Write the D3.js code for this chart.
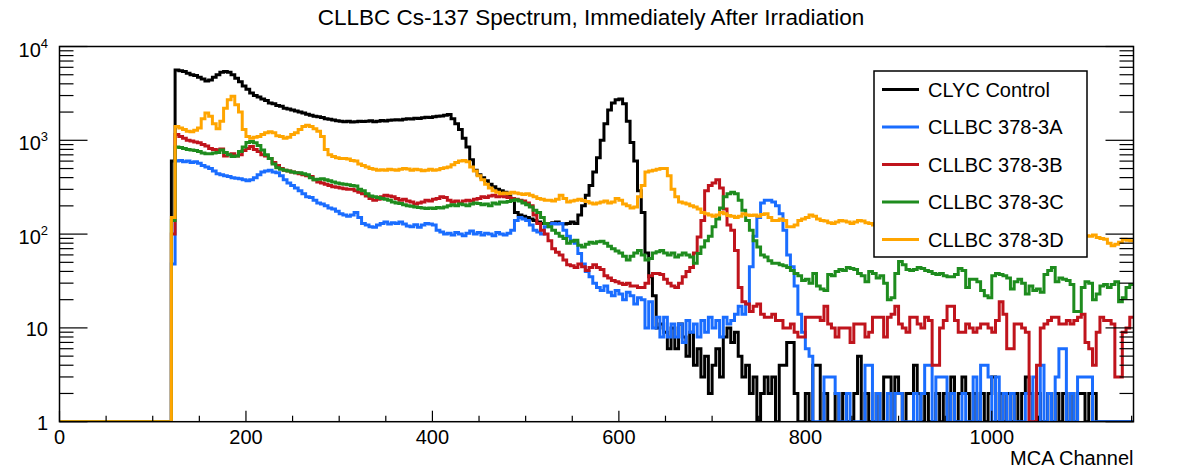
<!DOCTYPE html>
<html>
<head>
<meta charset="utf-8">
<script src="https://cdn.jsdelivr.net/npm/d3@7"></script>
<style>
  body { margin: 0; background: #fff; }
  svg { font-family: "Liberation Sans", Arial, Helvetica, sans-serif; }
</style>
</head>
<body>
<svg id="chart" width="1182" height="469"></svg>
<script>
// histogram bins: 4 MCA channels wide, first filled bin starts at channel 120
const firstChannel = 120;
const binWidth = 4;
const channelMax = 1152;

const seriesNames = ['CLYC Control', 'CLLBC 378-3A', 'CLLBC 378-3B', 'CLLBC 378-3C', 'CLLBC 378-3D'];
const seriesColors = ['#000000', '#1a6dff', '#c0141c', '#1e8c1e', '#ffa500'];

const clycControl = [
    600, 5600, 5500, 5400, 5200, 5000, 4900, 4700, 4500, 4300,
    4400, 4700, 5000, 5300, 5400, 5300, 5000, 4600, 4200, 3800,
    3500, 3200, 3000, 2900, 2750, 2650, 2500, 2450, 2350, 2300,
    2200, 2150, 2100, 2050, 2000, 1950, 1900, 1850, 1800, 1780,
    1750, 1700, 1680, 1650, 1620, 1600, 1580, 1600, 1570, 1580,
    1600, 1590, 1600, 1620, 1580, 1600, 1630, 1610, 1640, 1650,
    1660, 1650, 1680, 1700, 1690, 1720, 1710, 1740, 1760, 1750,
    1780, 1800, 1820, 1850, 1880, 1700, 1500, 1300, 1050, 850,
    620, 480, 430, 400, 370, 340, 320, 300, 290, 280,
    260, 230, 170, 160, 155, 150, 145, 140, 135, 130,
    130, 128, 132, 135, 130, 128, 130, 135, 130, 160,
    200, 260, 330, 460, 650, 1000, 1500, 2100, 2500, 2700,
    2750, 2450, 1600, 950, 600, 290, 170, 63, 35, 22,
    10, 11, 9, 6, 10, 6, 11, 8, 5, 9,
    4, 6, 3, 5, 2, 4, 6, 3, 8, 10,
    7, 9, 5, 3, 4, 2, 3, 1, 2, 3,
    2, 3, 1, 4, 4, 7, 7, 2, 1, 0,
    2, 1, 4, 4, 1, 2, 0, 1, 2, 1,
    2, 1, 0, 2, 5, 1, 2, 1, 0, 2,
    1, 3, 3, 1, 3, 2, 1, 2, 2, 4,
    2, 1, 2, 1, 0, 2, 1, 2, 1, 3,
    1, 2, 3, 2, 1, 2, 1, 2, 1, 2,
    3, 1, 2, 1, 2, 0, 2, 1, 2, 3,
    2, 1, 2, 1, 0, 2, 1, 2, 1, 2,
    1, 2, 1, 2, 2, 1, 2, 2, 1, 0,
    0, 0, 0, 0, 0, 0, 0, 0
];

const cllbc3A = [
    48, 600, 610, 590, 600, 580, 590, 570, 540, 520,
    500, 470, 440, 430, 420, 410, 400, 395, 390, 380,
    370, 380, 400, 430, 460, 470, 480, 460, 450, 420,
    380, 350, 330, 310, 290, 270, 250, 245, 230, 215,
    210, 200, 190, 185, 175, 165, 160, 155, 160, 170,
    150, 130, 125, 120, 118, 125, 130, 135, 128, 132,
    130, 135, 128, 122, 120, 126, 118, 125, 130, 128,
    125, 110, 105, 100, 102, 98, 104, 100, 96, 102,
    108, 100, 104, 98, 102, 100, 96, 104, 100, 98,
    102, 110, 140, 150, 145, 140, 125, 110, 105, 100,
    120, 125, 130, 128, 130, 110, 95, 85, 80, 62,
    48, 40, 35, 30, 27, 25, 28, 24, 22, 25,
    23, 20, 24, 22, 18, 21, 20, 10, 19, 10,
    13, 8, 13, 8, 11, 8, 11, 7, 12, 9,
    11, 8, 12, 9, 13, 10, 12, 8, 13, 11,
    12, 14, 17, 14, 18, 45, 95, 150, 215, 230,
    230, 220, 200, 165, 110, 60, 45, 28, 14, 9,
    6, 5, 1, 0, 0, 3, 3, 3, 2, 0,
    0, 2, 0, 1, 0, 0, 4, 4, 1, 2,
    0, 0, 2, 0, 2, 2, 1, 0, 0, 2,
    0, 2, 4, 4, 1, 3, 3, 3, 0, 2,
    0, 1, 2, 0, 0, 3, 0, 4, 4, 3,
    0, 3, 0, 2, 0, 2, 0, 1, 0, 2,
    0, 3, 0, 4, 0, 2, 0, 3, 6, 6,
    0, 2, 0, 3, 3, 3, 3, 0, 0, 0,
    0, 0, 0, 0, 0, 0, 0, 0
];

const cllbc3B = [
    100, 1150, 1100, 1050, 1000, 980, 960, 940, 900, 870,
    820, 800, 790, 810, 680, 700, 720, 680, 700, 780,
    820, 860, 800, 760, 700, 680, 640, 580, 540, 500,
    480, 470, 460, 450, 440, 430, 420, 410, 380, 360,
    350, 340, 330, 320, 315, 310, 305, 300, 300, 290,
    280, 270, 255, 240, 230, 235, 250, 260, 255, 250,
    240, 230, 235, 225, 220, 210, 215, 220, 230, 225,
    235, 240, 250, 245, 230, 220, 225, 215, 225, 230,
    225, 235, 240, 250, 245, 255, 260, 250, 255, 250,
    245, 240, 235, 230, 225, 215, 200, 160, 130, 110,
    100, 85, 70, 64, 60, 53, 47, 46, 44, 48,
    45, 41, 44, 47, 44, 42, 36, 34, 32, 31,
    30, 29, 30, 28, 28, 27, 27, 30, 36, 38,
    38, 37, 33, 30, 28, 27, 30, 35, 40, 44,
    63, 93, 140, 290, 330, 350, 380, 310, 185, 125,
    110, 67, 27, 19, 18, 15, 17, 18, 14, 13,
    13, 14, 12, 12, 10, 10, 11, 9, 8, 8,
    13, 13, 13, 13, 12, 17, 11, 10, 8, 10,
    10, 10, 7, 11, 11, 11, 8, 9, 13, 13,
    13, 8, 13, 14, 17, 11, 10, 9, 13, 13,
    11, 10, 13, 12, 4, 4, 10, 12, 17, 17,
    12, 9, 9, 11, 10, 9, 10, 11, 11, 10,
    9, 12, 19, 14, 6, 6, 11, 11, 10, 9,
    0, 0, 4, 10, 11, 12, 13, 13, 11, 11,
    12, 11, 12, 13, 14, 7, 6, 4, 9, 13,
    12, 12, 11, 3, 3, 9, 10, 13
];

const cllbc3C = [
    140, 850, 840, 820, 800, 790, 780, 760, 730, 720,
    720, 730, 740, 790, 740, 700, 670, 680, 760, 850,
    950, 970, 940, 880, 790, 700, 640, 560, 510, 490,
    480, 470, 460, 450, 450, 440, 430, 400, 380, 385,
    390, 380, 370, 360, 350, 345, 340, 335, 330, 325,
    300, 290, 270, 255, 250, 245, 240, 235, 230, 220,
    215, 212, 205, 200, 198, 195, 192, 190, 188, 190,
    188, 192, 190, 195, 200, 205, 200, 210, 205, 200,
    210, 215, 212, 205, 210, 200, 215, 210, 220, 218,
    222, 228, 232, 225, 215, 205, 195, 180, 170, 150,
    130, 120, 110, 102, 95, 90, 80, 84, 86, 76,
    73, 78, 82, 80, 83, 84, 80, 74, 70, 66,
    63, 58, 53, 58, 63, 67, 60, 53, 55, 63,
    65, 67, 63, 60, 63, 57, 60, 63, 60, 57,
    49, 62, 73, 85, 95, 120, 145, 190, 250, 270,
    280, 270, 230, 180, 140, 110, 85, 73, 60, 57,
    52, 49, 49, 47, 46, 44, 41, 38, 36, 32,
    33, 30, 38, 28, 26, 25, 37, 36, 40, 42,
    41, 44, 43, 42, 38, 36, 31, 40, 38, 34,
    36, 30, 20, 21, 38, 51, 47, 42, 41, 42,
    44, 43, 41, 40, 38, 37, 38, 36, 35, 35,
    37, 43, 41, 27, 33, 33, 31, 25, 22, 21,
    36, 38, 37, 36, 34, 26, 31, 33, 30, 23,
    28, 25, 26, 24, 37, 41, 44, 31, 34, 33,
    32, 29, 15, 15, 27, 31, 30, 20, 23, 28,
    29, 27, 29, 31, 19, 21, 27, 29
];

const cllbc3D = [
    150, 1400, 1350, 1300, 1250, 1230, 1280, 1350, 1700, 1950,
    1800, 1500, 1330, 1600, 2200, 2700, 2950, 2400, 2000, 1300,
    1100, 1050, 1080, 1100, 1150, 1200, 1230, 1200, 1120, 1100,
    1050, 1080, 1150, 1200, 1300, 1400, 1450, 1400, 1330, 1250,
    1100, 800, 700, 670, 650, 640, 640, 630, 610, 600,
    560, 540, 520, 500, 490, 480, 485, 480, 490, 485,
    480, 490, 500, 495, 480, 490, 485, 475, 480, 490,
    480, 485, 500, 510, 520, 550, 580, 600, 610, 590,
    520, 470, 420, 380, 340, 310, 290, 280, 270, 275,
    270, 280, 275, 270, 265, 270, 260, 250, 240, 235,
    230, 230, 225, 235, 260, 240, 220, 225, 230, 235,
    228, 222, 215, 210, 215, 220, 225, 215, 220, 240,
    230, 210, 200, 190, 195, 250, 330, 460, 470, 480,
    490, 500, 500, 420, 300, 250, 220, 215, 210, 200,
    195, 185, 170, 165, 160, 155, 160, 170, 165, 158,
    155, 150, 155, 165, 160, 158, 160, 155, 162, 165,
    150, 140, 140, 145, 140, 120, 120, 125, 140, 145,
    150, 160, 155, 145, 140, 138, 132, 130, 135, 140,
    138, 135, 130, 135, 140, 138, 132, 130, 125, 120,
    125, 128, 122, 130, 126, 120, 124, 118, 122, 120,
    118, 122, 116, 120, 115, 118, 112, 116, 114, 110,
    112, 108, 114, 110, 106, 110, 105, 108, 104, 106,
    104, 100, 106, 102, 98, 104, 100, 102, 97, 100,
    98, 102, 96, 100, 95, 98, 100, 94, 97, 96,
    97, 95, 99, 96, 94, 96, 95, 98, 92, 90,
    88, 80, 75, 78, 82, 88, 86, 85
];

const seriesValues = [clycControl, cllbc3A, cllbc3B, cllbc3C, cllbc3D];

const xTicks = [0, 200, 400, 600, 800, 1000];
const yTicks = [1, 10, 100, 1000, 10000];

const frameLeft = 59.5, frameRight = 1133.5, frameTop = 46.5, frameBottom = 421.7;

const svg = d3.select('#chart');

const x = d3.scaleLinear().domain([0, channelMax]).range([frameLeft, frameRight]);
const y = d3.scaleLog().domain([1, 10000]).range([frameBottom, frameTop]);

svg.append('defs')
    .append('clipPath')
    .attr('id', 'frame-clip')
    .append('rect')
    .attr('x', frameLeft)
    .attr('y', frameTop)
    .attr('width', frameRight - frameLeft)
    .attr('height', frameBottom - frameTop);

// step histogram, empty bins sit on the log floor
const line = d3.line()
    .x(d => x(d.ch))
    .y(d => y(Math.max(d.v, 1)))
    .curve(d3.curveStepAfter);

const plot = svg.append('g').attr('clip-path', 'url(#frame-clip)');

seriesValues.forEach((values, i) => {
    const pts = [{ ch: 0, v: 0 }];
    values.forEach((v, j) => pts.push({ ch: firstChannel + j * binWidth, v }));
    pts.push({ ch: firstChannel + values.length * binWidth, v: values[values.length - 1] });

    plot.append('path')
        .attr('d', line(pts))
        .attr('fill', 'none')
        .attr('stroke', seriesColors[i])
        .attr('stroke-width', 3);
});

// frame
svg.append('rect')
    .attr('x', frameLeft)
    .attr('y', frameTop)
    .attr('width', frameRight - frameLeft)
    .attr('height', frameBottom - frameTop)
    .attr('fill', 'none')
    .attr('stroke', '#000')
    .attr('stroke-width', 1.5);

// x ticks
const xMinor = d3.range(0, channelMax, 50);
svg.append('g')
    .selectAll('line')
    .data(xMinor)
    .enter()
    .append('line')
    .attr('x1', d => x(d))
    .attr('x2', d => x(d))
    .attr('y1', frameBottom)
    .attr('y2', d => frameBottom - (xTicks.includes(d) ? 11 : 6))
    .attr('stroke', '#000')
    .attr('stroke-width', 1.2);

svg.append('g')
    .selectAll('text')
    .data(xTicks)
    .enter()
    .append('text')
    .attr('x', d => x(d))
    .attr('y', 444)
    .attr('text-anchor', 'middle')
    .attr('font-size', 20)
    .text(d => d);

// y ticks, both sides of the frame
const yMinor = [];
[1, 10, 100, 1000].forEach(dec => d3.range(2, 10).forEach(k => yMinor.push(dec * k)));
const yAll = yTicks.map(v => ({ v, major: true })).concat(yMinor.map(v => ({ v, major: false })));

[frameLeft, frameRight].forEach((x0, side) => {
    svg.append('g')
        .selectAll('line')
        .data(yAll)
        .enter()
        .append('line')
        .attr('x1', x0)
        .attr('x2', d => x0 + (side ? -1 : 1) * (d.major ? 28 : 14))
        .attr('y1', d => y(d.v))
        .attr('y2', d => y(d.v))
        .attr('stroke', '#000')
        .attr('stroke-width', 1.2);
});

const yLabels = svg.append('g')
    .selectAll('text')
    .data(yTicks)
    .enter()
    .append('text')
    .attr('x', 48)
    .attr('y', d => y(d) + (d >= 100 ? 10 : 8))
    .attr('text-anchor', 'end')
    .attr('font-size', 20);

yLabels.each(function(d) {
    const t = d3.select(this);
    if (d < 100) {
        t.text(d);
    } else {
        t.append('tspan').text('10');
        t.append('tspan')
            .attr('font-size', 13)
            .attr('dy', -9)
            .text(Math.round(Math.log10(d)));
    }
});

// titles
svg.append('text')
    .attr('x', 591)
    .attr('y', 25)
    .attr('text-anchor', 'middle')
    .attr('font-size', 22.5)
    .text('CLLBC Cs-137 Spectrum, Immediately After Irradiation');

svg.append('text')
    .attr('x', frameRight)
    .attr('y', 465)
    .attr('text-anchor', 'end')
    .attr('font-size', 20)
    .text('MCA Channel');

// legend
const legend = svg.append('g');
legend.append('rect')
    .attr('x', 874)
    .attr('y', 71)
    .attr('width', 213)
    .attr('height', 186)
    .attr('fill', '#fff')
    .attr('stroke', '#000')
    .attr('stroke-width', 1.5);

const entries = legend.selectAll('g.entry')
    .data(seriesNames)
    .enter()
    .append('g')
    .attr('class', 'entry')
    .attr('transform', (d, i) => `translate(0 ${89.5 + i * 37.5})`);

entries.append('line')
    .attr('x1', 882)
    .attr('x2', 919)
    .attr('stroke', (d, i) => seriesColors[i])
    .attr('stroke-width', 3);

entries.append('text')
    .attr('x', 928)
    .attr('y', 7)
    .attr('font-size', 20)
    .text(d => d);
</script>
</body>
</html>
